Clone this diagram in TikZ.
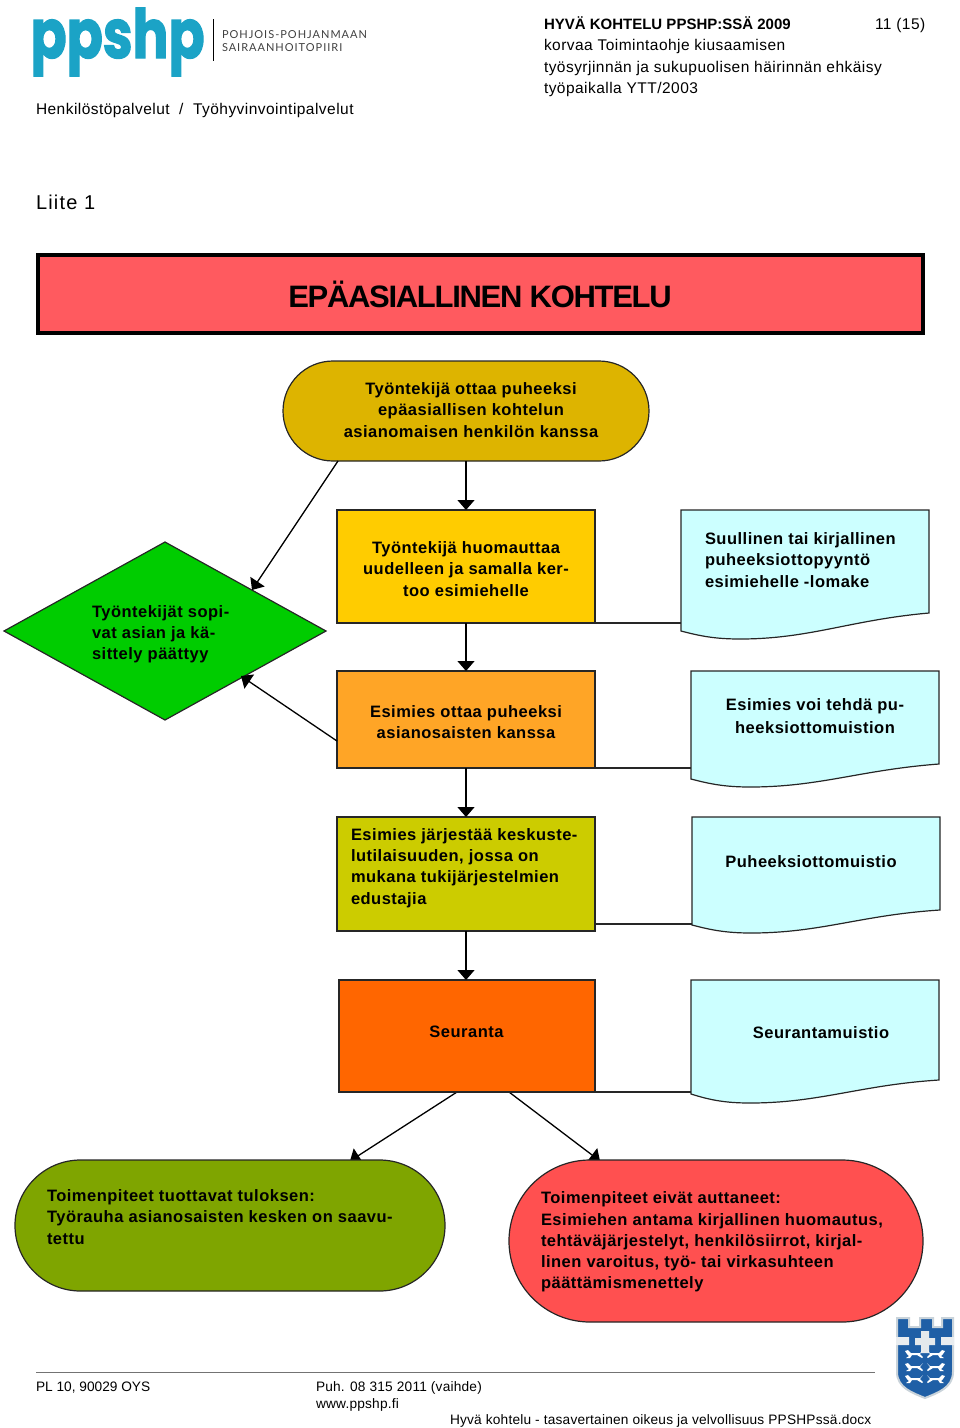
\documentclass[tikz,border=0pt]{standalone}
\usepackage{fontspec}
\usetikzlibrary{arrows.meta,shapes.geometric,shapes.misc,calc,backgrounds}
\setmainfont{Liberation Sans}
\newfontfamily\bodyfont[LetterSpace=3]{Liberation Sans}
\newfontfamily\headfont[LetterSpace=3]{Liberation Sans}
\newfontfamily\footfont[LetterSpace=1.5]{Liberation Sans}
\newfontfamily\liitefont[LetterSpace=6]{Liberation Sans}
\newfontfamily\titlefont[LetterSpace=-4.2]{Liberation Sans}
\newfontfamily\logofont[BoldFeatures={FakeBold=2}]{Poppins}
\newfontfamily\logosub[LetterSpace=9]{Lato}
\definecolor{logoblue}{HTML}{1BA3C6}
\definecolor{crestblue}{HTML}{1F5FA6}
\definecolor{crestgrey}{HTML}{C9D3DA}
\definecolor{cstart}{HTML}{DDB400}
\definecolor{cbanner}{HTML}{FF5A5F}
\definecolor{cbox1}{HTML}{FFCC00}
\definecolor{cbox2}{HTML}{FFA526}
\definecolor{cbox3}{HTML}{CCCC00}
\definecolor{cbox4}{HTML}{FF6600}
\definecolor{cdoc}{HTML}{CCFFFF}
\definecolor{cok}{HTML}{7FA500}
\definecolor{cfail}{HTML}{FF5050}
\definecolor{cdia}{HTML}{00CC00}
\tikzset{
  x=1pt,y=-1pt,
  every node/.style={inner sep=0pt,outer sep=0pt},
  outl/.style={draw=black!85!white,line width=1.2pt},
  boxn/.style={outl,rectangle},
  term/.style={outl,rounded rectangle,rounded rectangle arc length=180},
  docshape/.style={outl,fill=cdoc},
  conn/.style={draw=black,line width=1.3pt},
  arr/.style={conn,-{Triangle[length=10pt,width=17pt]}},
  plain/.style={draw=black!85!white,line width=1.2pt},
  txtc/.style={align=center,font=\bodyfont\bfseries\fontsize{16.5}{21.2}\selectfont},
  txtl/.style={align=left,anchor=west,font=\bodyfont\bfseries\fontsize{16.5}{21.2}\selectfont},
  hd/.style={anchor=base west,font=\headfont\fontsize{15.5}{18}\selectfont},
  ft/.style={anchor=base west,font=\footfont\fontsize{13.7}{17}\selectfont},
  lion/.pic={\fill[white] (-9,-4)--(-6,-1)--(3,-1)--(6,-4)--(9,-3)--(7,0)--(5,2)--(8,4)--(4,4)--(2,1)--(-3,1)--(-8,4)--(-9,3)--(-6,0)--cycle;},
}
\begin{document}
\begin{tikzpicture}
\useasboundingbox (0,0) rectangle (960,1428);
% logo
\node[anchor=base west,text=logoblue,font=\logofont\bfseries] (logo) at (30.5,58) {\scalebox{2.22}[2.83]{\fontsize{24}{24}\selectfont ppshp}};
\draw[black,line width=1pt] (213,19) -- (213,61);
\node[anchor=base west,font=\logosub\fontsize{11}{13}\selectfont,text=black!75] (lg1) at (222,38) {POHJOIS-POHJANMAAN};
\node[anchor=base west,font=\logosub\fontsize{11}{13}\selectfont,text=black!75] (lg2) at (222,51) {SAIRAANHOITOPIIRI};
% header
\node[hd] (h1) at (36,114) {Henkilöstöpalvelut\ \ /\ \ Työhyvinvointipalvelut};
\node[hd,font=\bfseries\fontsize{15}{18}\selectfont] (h2) at (544,29) {HYVÄ KOHTELU PPSHP:SSÄ 2009};
\node[hd] (h3) at (875,29) {11 (15)};
\node[hd] (h4) at (544,50) {korvaa Toimintaohje kiusaamisen};
\node[hd] (h5) at (544,72) {työsyrjinnän ja sukupuolisen häirinnän ehkäisy};
\node[hd] (h6) at (544,93) {työpaikalla YTT/2003};
\node[hd,font=\liitefont\fontsize{20}{24}\selectfont] (liite) at (36,209) {Liite 1};
% banner
\node[rectangle,draw=black,line width=4pt,fill=cbanner,minimum width=885pt,minimum height=78pt,font=\titlefont\bfseries\fontsize{31}{36}\selectfont] (banner) at (480,294) {EPÄASIALLINEN KOHTELU};
% shapes
\node[term,fill=cstart,minimum width=366pt,minimum height=100pt] (start) at (466,411) {};
\node[txtc] (tstart) at (471,410) {Työntekijä ottaa puheeksi\\epäasiallisen kohtelun\\asianomaisen henkilön kanssa};
\node[boxn,fill=cbox1,minimum width=258pt,minimum height=113pt] (b1) at (466,566.5) {};
\node[txtc] (tb1) at (466,569) {Työntekijä huomauttaa\\uudelleen ja samalla ker-\\too esimiehelle};
\node[boxn,fill=cbox2,minimum width=258pt,minimum height=97pt] (b2) at (466,719.5) {};
\node[txtc] (tb2) at (466,722) {Esimies ottaa puheeksi\\asianosaisten kanssa};
\node[boxn,fill=cbox3,minimum width=258pt,minimum height=114pt] (b3) at (466,874) {};
\node[txtl] (tb3) at (351,868) {Esimies järjestää keskuste-\\lutilaisuuden, jossa on\\mukana tukijärjestelmien\\edustajia};
\node[boxn,fill=cbox4,minimum width=256pt,minimum height=112pt] (b4) at (467,1036) {};
\node[txtc] (tb4) at (466.5,1032) {Seuranta};
\node[outl,diamond,fill=cdia,minimum width=322pt,minimum height=178pt,aspect=1.81] (dia) at (165,631) {};
\node[txtl] (tdia) at (92,634) {Työntekijät sopi-\\vat asian ja kä-\\sittely päättyy};
\node[term,fill=cok,minimum width=430pt,minimum height=131pt] (ok) at (230,1225.5) {};
\node[txtl] (tok) at (47,1217) {Toimenpiteet tuottavat tuloksen:\\Työrauha asianosaisten kesken on saavu-\\tettu};
\node[term,fill=cfail,minimum width=414pt,minimum height=162pt] (fail) at (716,1241) {};
\node[txtl] (tfail) at (541,1242) {Toimenpiteet eivät auttaneet:\\Esimiehen antama kirjallinen huomautus,\\tehtäväjärjestelyt, henkilösiirrot, kirjal-\\linen varoitus, työ- tai virkasuhteen\\päättämismenettely};
% documents
\draw[docshape] (681,510) -- (929,510) -- (929,613) .. controls (850,620) and (810,639) .. (740,639) .. controls (715,639) and (700,636) .. (681,631) -- cycle;
\draw[docshape] (691,671) -- (939,671) -- (939,764) .. controls (860,770) and (820,787) .. (750,787) .. controls (725,787) and (710,784) .. (691,779) -- cycle;
\draw[docshape] (692,817) -- (940,817) -- (940,910) .. controls (861,915) and (821,933) .. (751,933) .. controls (726,933) and (711,930) .. (692,925) -- cycle;
\draw[docshape] (691,980) -- (939,980) -- (939,1080) .. controls (860,1085) and (820,1103) .. (750,1103) .. controls (725,1103) and (710,1100) .. (691,1094) -- cycle;
\node[txtl] (td1) at (705,560) {Suullinen tai kirjallinen\\puheeksiottopyyntö\\esimiehelle -lomake};
\node[txtc,font=\bodyfont\bfseries\fontsize{16.5}{23}\selectfont] (td2) at (815,716.5) {Esimies voi tehdä pu-\\heeksiottomuistion};
\node[txtc] (td3) at (811,862) {Puheeksiottomuistio};
\node[txtc] (td4) at (821,1033) {Seurantamuistio};
\coordinate (d1w) at (681,623);
\coordinate (d2w) at (691,768);
\coordinate (d3w) at (692,924);
\coordinate (d4w) at (691,1092);
\coordinate (b3e) at (595,924);
\coordinate (startsw) at (338,461);
\coordinate (diaup) at (252,590);
\coordinate (b2w) at (337,741);
\coordinate (dialow) at (241,676);
\coordinate (b4l) at (457,1092);
\coordinate (b4r) at (509,1092);
\coordinate (okt) at (350,1161);
\coordinate (failt) at (600,1161);
% connectors
\draw[arr] (start.south) -- (b1.north);
\draw[arr] (b1.south) -- (b2.north);
\draw[arr] (b2.south) -- (b3.north);
\draw[arr] (b3.south) -- (b4.north -| b3.south);
\draw[arr] (startsw) -- (diaup);
\draw[arr] (b2w) -- (dialow);
\draw[plain] (b1.south east) -- (d1w);
\draw[plain] (b2.south east) -- (d2w);
\draw[plain] (b3e) -- (d3w);
\draw[plain] (b4.south east) -- (d4w);
\begin{scope}[on background layer]
\draw[arr] (b4l) -- (okt);
\draw[arr] (b4r) -- (failt);
\end{scope}
% footer
\draw[black!55,line width=1pt] (36,1372) -- (875,1372);
\node[ft,font=\fontsize{13.7}{17}\selectfont] (f1) at (36,1391) {PL 10, 90029 OYS};
\node[ft] (f2) at (316,1391) {Puh. 08 315 2011 (vaihde)};
\node[ft] (f3) at (316,1408) {www.ppshp.fi};
\node[ft] (f4) at (450,1424) {Hyvä kohtelu - tasavertainen oikeus ja velvollisuus PPSHPssä.docx};
% crest
\draw[fill=crestblue,draw=crestgrey,line width=2pt] (897,1318) -- (909,1318) -- (909,1327) -- (920,1327) -- (920,1318) -- (933,1318) -- (933,1327) -- (942,1327) -- (942,1318) -- (953,1318) -- (953,1372) .. controls (953,1388) and (937,1393) .. (925,1398) .. controls (913,1393) and (897,1388) .. (897,1372) -- cycle;
\fill[crestgrey!40!white] (896,1337) rectangle (909,1345) (941,1337) rectangle (954,1345);
\fill[crestgrey!50!white] (921,1331) rectangle (929,1353) (915,1338) rectangle (935,1345);
\foreach \yy in {1354,1367,1379}{
  \pic[xscale=-1] at (914,\yy) {lion};
  \pic at (936,\yy) {lion};
}
\end{tikzpicture}
\end{document}
